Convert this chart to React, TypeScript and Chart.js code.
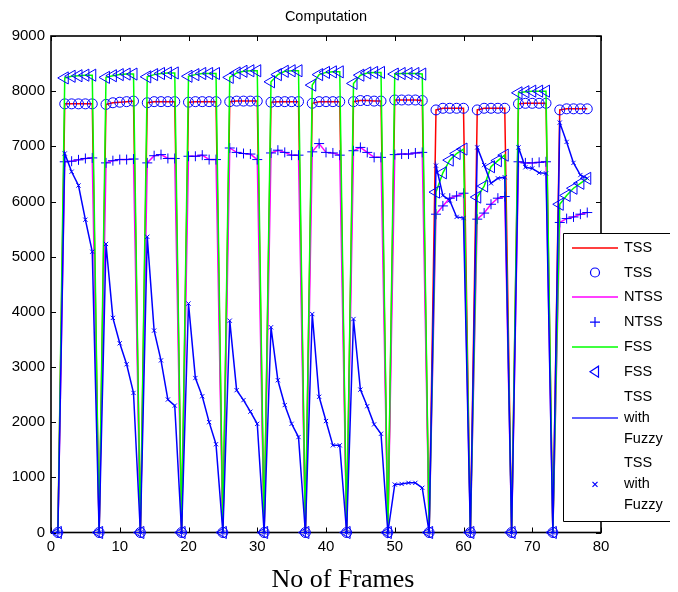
import React, { useEffect, useRef } from "react";
import { Chart, registerables } from "chart.js";

Chart.register(...registerables);

const chartTitle = "Computation";
const xAxisTitle = "No of Frames";

const frames = [
  1, 2, 3, 4, 5, 6, 7, 8, 9, 10, 11, 12, 13, 14, 15, 16, 17, 18, 19, 20,
  21, 22, 23, 24, 25, 26, 27, 28, 29, 30, 31, 32, 33, 34, 35, 36, 37, 38, 39, 40,
  41, 42, 43, 44, 45, 46, 47, 48, 49, 50, 51, 52, 53, 54, 55, 56, 57, 58, 59, 60,
  61, 62, 63, 64, 65, 66, 67, 68, 69, 70, 71, 72, 73, 74, 75, 76, 77, 78,
];

const tss = [
  0, 7770, 7770, 7770, 7770, 7770,
  0, 7760, 7790, 7800, 7810, 7820,
  0, 7790, 7810, 7810, 7810, 7810,
  0, 7800, 7810, 7810, 7810, 7810,
  0, 7810, 7820, 7820, 7820, 7820,
  0, 7800, 7810, 7810, 7810, 7810,
  0, 7780, 7810, 7810, 7810, 7810,
  0, 7810, 7830, 7830, 7820, 7820,
  0, 7840, 7840, 7840, 7840, 7830,
  0, 7660, 7690, 7690, 7690, 7690,
  0, 7660, 7690, 7690, 7690, 7690,
  0, 7770, 7780, 7780, 7780, 7780,
  0, 7660, 7680, 7680, 7680, 7680,
];

const ntss = [
  0, 6720, 6730, 6755, 6780, 6790,
  0, 6700, 6740, 6760, 6760, 6770,
  0, 6700, 6830, 6850, 6780, 6780,
  0, 6820, 6820, 6840, 6760, 6760,
  0, 6970, 6890, 6870, 6860, 6760,
  0, 6880, 6930, 6890, 6840, 6840,
  0, 6900, 7050, 6890, 6880, 6840,
  0, 6920, 6980, 6890, 6800, 6800,
  0, 6850, 6860, 6860, 6880, 6890,
  0, 5770, 5920, 6060, 6100, 6150,
  0, 5680, 5790, 5950, 6060, 6090,
  0, 6720, 6700, 6700, 6710, 6720,
  0, 5620, 5690, 5720, 5770, 5800,
];

const fss = [
  0, 8240, 8270, 8280, 8290, 8290,
  0, 8250, 8280, 8300, 8310, 8310,
  0, 8260, 8300, 8320, 8330, 8330,
  0, 8270, 8300, 8320, 8320, 8320,
  0, 8250, 8330, 8360, 8370, 8370,
  0, 8170, 8300, 8360, 8370, 8370,
  0, 8110, 8300, 8340, 8350, 8350,
  0, 8140, 8290, 8330, 8340, 8340,
  0, 8310, 8320, 8320, 8320, 8310,
  0, 6170, 6520, 6750, 6870, 6950,
  0, 6080, 6280, 6630, 6740, 6840,
  0, 7970, 7990, 8000, 8000, 8000,
  0, 5950, 6110, 6240, 6330, 6420,
];

const tssFuzzy = [
  0, 6870, 6540, 6290, 5670, 5090,
  0, 5230, 3890, 3430, 3050, 2530,
  0, 5360, 3660, 3120, 2410, 2300,
  0, 4150, 2800, 2470, 2000, 1600,
  0, 3840, 2580, 2400, 2190, 1970,
  0, 3720, 2760, 2310, 1970, 1730,
  0, 3960, 2460, 2020, 1580, 1580,
  0, 3870, 2590, 2290, 1960, 1790,
  0, 870, 880, 900, 900, 810,
  0, 6650, 6110, 6020, 5720, 5700,
  0, 6980, 6660, 6330, 6420, 6440,
  0, 6980, 6620, 6600, 6520, 6510,
  0, 7430, 7080, 6700, 6480, 6420,
];

const xTickValues = [0, 10, 20, 30, 40, 50, 60, 70, 80];
const yTickValues = [0, 1000, 2000, 3000, 4000, 5000, 6000, 7000, 8000, 9000];

const legendLabels = [
  ["TSS"],
  ["TSS"],
  ["NTSS"],
  ["NTSS"],
  ["FSS"],
  ["FSS"],
  ["TSS", "with", "Fuzzy"],
  ["TSS", "with", "Fuzzy"],
];
const legendSymbols = ["line", "circle", "line", "plus", "line", "triangle", "line", "x"];

const RED = "#ff0000";
const MAGENTA = "#ff00ff";
const GREEN = "#00ff00";
const BLUE = "#0000ff";
const legendColors = [RED, BLUE, MAGENTA, BLUE, GREEN, BLUE, "#2a2aff", BLUE];

const SANS = "'Liberation Sans', Arial, sans-serif";
const SERIF = "'Liberation Serif', 'Times New Roman', serif";

function toPoints(values: number[]) {
  return frames.map((f, i) => ({ x: f, y: values[i] }));
}

function drawSymbol(ctx: CanvasRenderingContext2D, kind: string, color: string, cx: number, cy: number) {
  ctx.save();
  ctx.strokeStyle = color;
  ctx.lineWidth = 1.2;
  ctx.beginPath();
  if (kind === "line") {
    ctx.lineWidth = 1.6;
    const yy = Math.round(cy);
    ctx.moveTo(cx - 23, yy);
    ctx.lineTo(cx + 23, yy);
  } else if (kind === "circle") {
    ctx.arc(cx, cy, 4.5, 0, Math.PI * 2);
  } else if (kind === "plus") {
    ctx.moveTo(cx - 5, cy);
    ctx.lineTo(cx + 5, cy);
    ctx.moveTo(cx, cy - 5);
    ctx.lineTo(cx, cy + 5);
  } else if (kind === "triangle") {
    ctx.moveTo(cx - 5, cy);
    ctx.lineTo(cx + 3.5, cy - 5.5);
    ctx.lineTo(cx + 3.5, cy + 5.5);
    ctx.closePath();
  } else if (kind === "x") {
    ctx.moveTo(cx - 2.5, cy - 2.5);
    ctx.lineTo(cx + 2.5, cy + 2.5);
    ctx.moveTo(cx + 2.5, cy - 2.5);
    ctx.lineTo(cx - 2.5, cy + 2.5);
  }
  ctx.stroke();
  ctx.restore();
}

const overlayPlugin = {
  id: "matlabOverlay",
  beforeDatasetsDraw(chart: any) {
    const { ctx, chartArea: a, scales } = chart;
    ctx.save();
    ctx.strokeStyle = "#000";
    ctx.lineWidth = 1;
    ctx.beginPath();
    for (const v of xTickValues) {
      const px = Math.round(scales.x.getPixelForValue(v)) + 0.5;
      ctx.moveTo(px, a.bottom);
      ctx.lineTo(px, a.bottom - 5);
      ctx.moveTo(px, a.top);
      ctx.lineTo(px, a.top + 5);
    }
    for (const v of yTickValues) {
      const py = Math.round(scales.y.getPixelForValue(v)) + 0.5;
      ctx.moveTo(a.left, py);
      ctx.lineTo(a.left + 5, py);
      ctx.moveTo(a.right, py);
      ctx.lineTo(a.right - 5, py);
    }
    ctx.stroke();
    ctx.lineWidth = 1.6;
    ctx.strokeRect(a.left, a.top, a.right - a.left, a.bottom - a.top);
    ctx.restore();
  },
  afterDraw(chart: any) {
    const { ctx, chartArea: a } = chart;
    ctx.save();
    // chart title
    ctx.fillStyle = "#000";
    ctx.textAlign = "center";
    ctx.textBaseline = "middle";
    ctx.font = `14.5px ${SANS}`;
    ctx.fillText(chartTitle, (a.left + a.right) / 2, 17);
    // x-axis title
    ctx.font = `26px ${SERIF}`;
    ctx.textBaseline = "alphabetic";
    ctx.fillText(xAxisTitle, 343, 586.5);

    // legend box
    const bx = 563.5;
    const by = 233.5;
    const bw = 130;
    const bh = 288;
    ctx.fillStyle = "#fff";
    ctx.fillRect(bx, by, bw, bh);
    ctx.strokeStyle = "#000";
    ctx.lineWidth = 1;
    ctx.beginPath();
    ctx.moveTo(670, by);
    ctx.lineTo(bx, by);
    ctx.lineTo(bx, by + bh);
    ctx.lineTo(670, by + bh);
    ctx.stroke();

    ctx.font = `14.5px ${SANS}`;
    ctx.textAlign = "left";
    ctx.textBaseline = "middle";
    let y = 247.7;
    const step = 24.8;
    const lineGap = 21;
    legendLabels.forEach((lines, i) => {
      const n = lines.length;
      const symY = y + ((n - 1) * lineGap) / 2;
      drawSymbol(ctx, legendSymbols[i], legendColors[i], 595, symY);
      ctx.fillStyle = "#000";
      lines.forEach((t, j) => ctx.fillText(t, 624, y + j * lineGap));
      y = y + (n - 1) * lineGap + step;
    });
    ctx.restore();
  },
};

export default function App() {
  const canvasRef = useRef<HTMLCanvasElement | null>(null);

  useEffect(() => {
    if (!canvasRef.current) return;
    const lineBase = {
      pointRadius: 0,
      borderWidth: 1.5,
      tension: 0,
      clip: false as any,
      fill: false,
    };
    const markBase = {
      showLine: false,
      borderColor: BLUE,
      backgroundColor: "rgba(0,0,0,0)",
      pointBorderWidth: 1,
      clip: false as any,
    };
    const chart = new Chart(canvasRef.current, {
      type: "line",
      data: {
        datasets: [
          { ...lineBase, label: "TSS", data: toPoints(tss), borderColor: RED, order: 8 },
          { ...markBase, label: "TSS", data: toPoints(tss), pointStyle: "circle", pointRadius: 5, order: 7 },
          { ...lineBase, label: "NTSS", data: toPoints(ntss), borderColor: MAGENTA, order: 6 },
          { ...markBase, label: "NTSS", data: toPoints(ntss), pointStyle: "cross", pointRadius: 5, order: 5 },
          { ...lineBase, label: "FSS", data: toPoints(fss), borderColor: GREEN, order: 4 },
          { ...markBase, label: "FSS", data: toPoints(fss), pointStyle: "triangle", pointRotation: -90, pointRadius: 7, order: 3 },
          { ...lineBase, label: "TSS with Fuzzy", data: toPoints(tssFuzzy), borderColor: BLUE, order: 2 },
          { ...markBase, label: "TSS with Fuzzy", data: toPoints(tssFuzzy), pointStyle: "crossRot", pointRadius: 3, order: 1 },
        ] as any,
      },
      options: {
        responsive: false,
        animation: false,
        events: [],
        devicePixelRatio: 1,
        layout: { padding: { left: 0, right: 77, top: 36, bottom: 0 } },
        plugins: {
          legend: { display: false },
          title: { display: false },
          tooltip: { enabled: false },
        },
        scales: {
          x: {
            type: "linear",
            min: 0,
            max: 80,
            afterBuildTicks: (scale: any) => {
              scale.ticks = xTickValues.map((v) => ({ value: v }));
            },
            afterFit: (scale: any) => {
              scale.height = 59.5;
            },
            grid: { display: false, drawTicks: false },
            border: { display: false },
            ticks: {
              color: "#000",
              padding: 5,
              maxRotation: 0,
              autoSkip: false,
              font: { family: SANS, size: 15 },
            },
          },
          y: {
            type: "linear",
            min: 0,
            max: 9000,
            afterBuildTicks: (scale: any) => {
              scale.ticks = yTickValues.map((v) => ({ value: v }));
            },
            afterFit: (scale: any) => {
              scale.width = 51;
            },
            grid: { display: false, drawTicks: false },
            border: { display: false },
            ticks: {
              color: "#000",
              padding: 6,
              autoSkip: false,
              font: { family: SANS, size: 15 },
              callback: (v: any) => String(v),
            },
          },
        },
      },
      plugins: [overlayPlugin as any],
    });
    return () => chart.destroy();
  }, []);

  return (
    <div style={{ position: "absolute", left: 0, top: 0, width: 678, height: 592, background: "#fff" }}>
      <canvas ref={canvasRef} width={678} height={592} style={{ display: "block" }} />
    </div>
  );
}
